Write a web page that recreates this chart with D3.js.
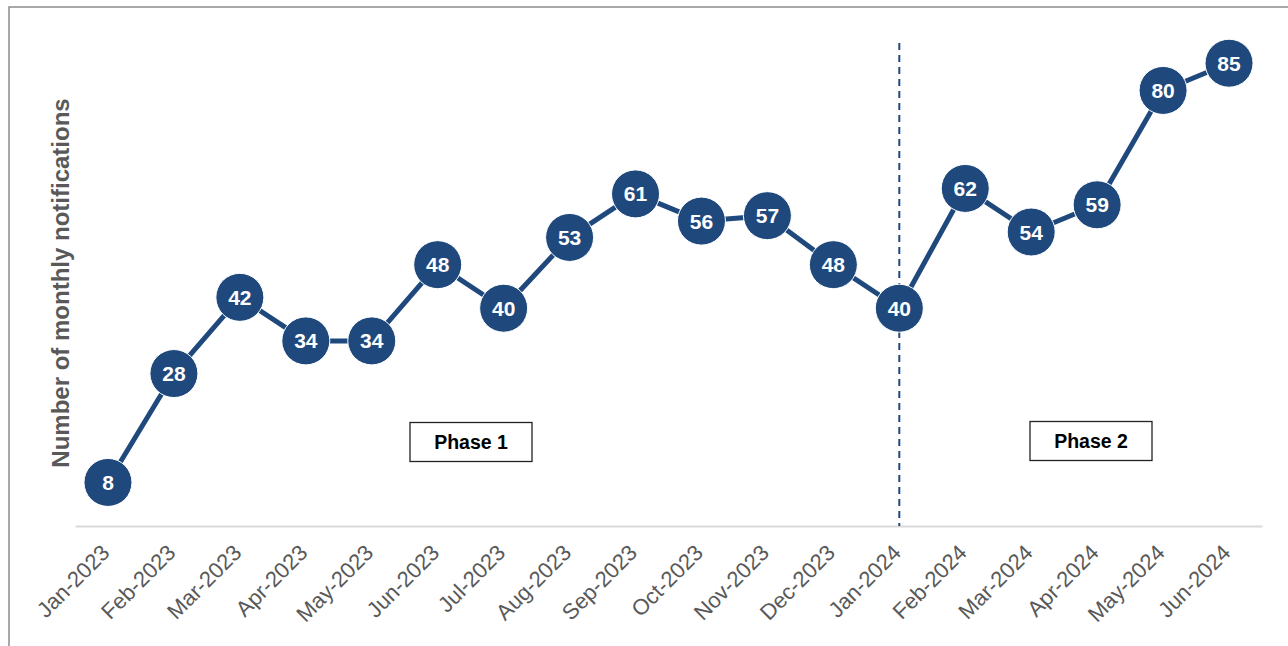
<!DOCTYPE html>
<html>
<head>
<meta charset="utf-8">
<script src="https://cdn.jsdelivr.net/npm/d3@7"></script>
<style>
  html, body { margin: 0; padding: 0; background: #fff; }
  svg { display: block; font-family: "Liberation Sans", Arial, sans-serif; }
</style>
</head>
<body>
<svg id="chart" width="1288" height="646"></svg>
<script>
// Monthly notification counts
const months = ["Jan-2023","Feb-2023","Mar-2023","Apr-2023","May-2023","Jun-2023",
                "Jul-2023","Aug-2023","Sep-2023","Oct-2023","Nov-2023","Dec-2023",
                "Jan-2024","Feb-2024","Mar-2024","Apr-2024","May-2024","Jun-2024"];
const notifications = [8, 28, 42, 34, 34, 48, 40, 53, 61, 56, 57, 48, 40, 62, 54, 59, 80, 85];
const phaseLabels = ["Phase 1", "Phase 2"];
const phaseBoundary = "Jan-2024";
const yMax = 90;

const svg = d3.select("#chart");
const navy = "#1f497d";

// outer frame
svg.append("rect")
  .attr("x", 9).attr("y", 7).attr("width", 1300).attr("height", 700)
  .attr("fill", "none").attr("stroke", "#8c8c8c").attr("stroke-width", 1.5);

const x = d3.scaleBand().domain(months).range([75, 1262]);
const y = d3.scaleLinear().domain([0, yMax]).range([526, 36]);
const cx = m => x(m) + x.bandwidth() / 2;

// x axis
const xAxis = svg.append("g")
  .attr("transform", `translate(0,${y(0)})`)
  .call(d3.axisBottom(x).tickSize(0).tickPadding(0));
xAxis.select(".domain").attr("stroke", "#d9d9d9").attr("stroke-width", 2);
xAxis.selectAll("text")
  .attr("fill", "#595959")
  .style("font-size", "22px")
  .attr("text-anchor", "end")
  .attr("dy", null)
  .attr("y", 0)
  .attr("transform", "translate(3,28) rotate(-45)");

// y axis title
svg.append("text")
  .attr("transform", `translate(69,283) rotate(-90)`)
  .attr("text-anchor", "middle")
  .attr("fill", "#595959")
  .style("font-size", "24px")
  .style("font-weight", "bold")
  .text("Number of monthly notifications");

// phase divider
svg.append("line")
  .attr("x1", cx(phaseBoundary)).attr("x2", cx(phaseBoundary))
  .attr("y1", 43).attr("y2", y(0))
  .attr("stroke", navy).attr("stroke-width", 2)
  .attr("stroke-dasharray", "7,5");

// phase label boxes
const phaseCenters = [471, 1091];
const phaseY = [442, 441];
phaseLabels.forEach((p, i) => {
  const g = svg.append("g").attr("transform", `translate(${phaseCenters[i]},${phaseY[i]})`);
  g.append("rect")
    .attr("x", -61).attr("y", -19.5).attr("width", 122).attr("height", 39)
    .attr("fill", "#fff").attr("stroke", "#222").attr("stroke-width", 1.3);
  g.append("text")
    .attr("text-anchor", "middle").attr("dy", "0.36em")
    .style("font-size", "19.5px").style("font-weight", "bold")
    .attr("fill", "#000")
    .text(p);
});

// line
const data = months.map((m, i) => ({ m, v: notifications[i] }));
svg.append("path")
  .datum(data)
  .attr("fill", "none")
  .attr("stroke", navy)
  .attr("stroke-width", 5)
  .attr("stroke-linejoin", "round")
  .attr("d", d3.line().x(d => cx(d.m)).y(d => y(d.v)));

// markers with value labels
const pts = svg.append("g").selectAll("g").data(data).join("g")
  .attr("transform", d => `translate(${cx(d.m)},${y(d.v)})`);
pts.append("circle")
  .attr("r", 24)
  .attr("fill", navy)
  .attr("stroke", "#fff").attr("stroke-width", 1);
pts.append("text")
  .attr("text-anchor", "middle").attr("dy", "0.36em")
  .attr("fill", "#fff")
  .style("font-size", "21px").style("font-weight", "bold")
  .text(d => d.v);
</script>
</body>
</html>
